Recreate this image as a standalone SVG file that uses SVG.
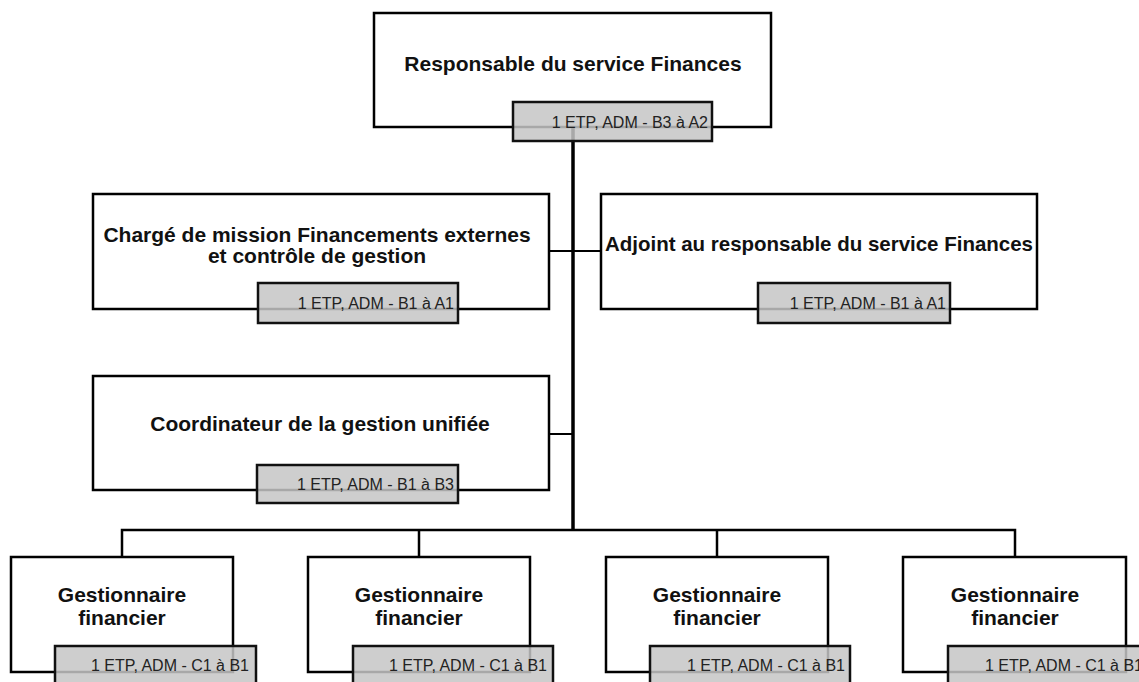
<svg xmlns="http://www.w3.org/2000/svg" width="1139" height="682" viewBox="0 0 1139 682">
<style>
.box{fill:#fff;stroke:#000;stroke-width:2.5}
.lab{fill:#c6c6c6;fill-opacity:0.85;stroke:#111;stroke-width:2.5}
.t{font-family:"Liberation Sans",Arial,sans-serif;font-weight:bold;font-size:21px;fill:#111;text-anchor:middle}
.l{font-family:"Liberation Sans",Arial,sans-serif;font-size:16px;fill:#222;text-anchor:end}
.c{fill:none;stroke:#000;stroke-width:2.5}
</style>
<rect width="1139" height="682" fill="#fff"/>
<g id="connectors">
<line class="c" x1="573" y1="127" x2="573" y2="530" style="stroke-width:3.5"/>
<line class="c" x1="549" y1="251" x2="601" y2="251" style="stroke-width:2"/>
<line class="c" x1="549" y1="434" x2="573" y2="434" style="stroke-width:2"/>
<polyline class="c" points="122,557 122,530 1015,530 1015,557"/>
<line class="c" x1="419" y1="530" x2="419" y2="557"/>
<line class="c" x1="717" y1="530" x2="717" y2="557"/>
</g>
<g id="n-responsable">
<rect class="box" x="374" y="13" width="397" height="114"/>
<text class="t" x="573" y="71">Responsable du service Finances</text>
<rect class="lab" x="513" y="102" width="199" height="39"/>
<text class="l" x="708" y="128">1 ETP, ADM - B3 à A2</text>
</g>
<g id="n-charge">
<rect class="box" x="93" y="194" width="456" height="115"/>
<text class="t" x="317" y="242">Chargé de mission Financements externes</text>
<text class="t" x="317" y="263">et contrôle de gestion</text>
<rect class="lab" x="258" y="283" width="200" height="40"/>
<text class="l" x="454" y="309">1 ETP, ADM - B1 à A1</text>
</g>
<g id="n-adjoint">
<rect class="box" x="601" y="194" width="436" height="115"/>
<text class="t" x="819" y="251" textLength="428" lengthAdjust="spacingAndGlyphs">Adjoint au responsable du service Finances</text>
<rect class="lab" x="758" y="283" width="192" height="40"/>
<text class="l" x="946" y="309">1 ETP, ADM - B1 à A1</text>
</g>
<g id="n-coordinateur">
<rect class="box" x="93" y="376" width="456" height="114"/>
<text class="t" x="320" y="431">Coordinateur de la gestion unifiée</text>
<rect class="lab" x="257" y="465" width="201" height="38"/>
<text class="l" x="454" y="490">1 ETP, ADM - B1 à B3</text>
</g>
<g id="n-gest1">
<rect class="box" x="11" y="557" width="222" height="115"/>
<text class="t" x="122" y="602">Gestionnaire</text>
<text class="t" x="122" y="625">financier</text>
<rect class="lab" x="55" y="646" width="201" height="40"/>
<text class="l" x="249" y="671">1 ETP, ADM - C1 à B1</text>
</g>
<g id="n-gest2">
<rect class="box" x="308" y="557" width="222" height="115"/>
<text class="t" x="419" y="602">Gestionnaire</text>
<text class="t" x="419" y="625">financier</text>
<rect class="lab" x="353" y="646" width="200" height="40"/>
<text class="l" x="547" y="671">1 ETP, ADM - C1 à B1</text>
</g>
<g id="n-gest3">
<rect class="box" x="606" y="557" width="222" height="115"/>
<text class="t" x="717" y="602">Gestionnaire</text>
<text class="t" x="717" y="625">financier</text>
<rect class="lab" x="650" y="646" width="200" height="40"/>
<text class="l" x="845" y="671">1 ETP, ADM - C1 à B1</text>
</g>
<g id="n-gest4">
<rect class="box" x="903" y="557" width="223" height="115"/>
<text class="t" x="1015" y="602">Gestionnaire</text>
<text class="t" x="1015" y="625">financier</text>
<rect class="lab" x="948" y="646" width="200" height="40"/>
<text class="l" x="1143" y="671">1 ETP, ADM - C1 à B1</text>
</g>
</svg>
